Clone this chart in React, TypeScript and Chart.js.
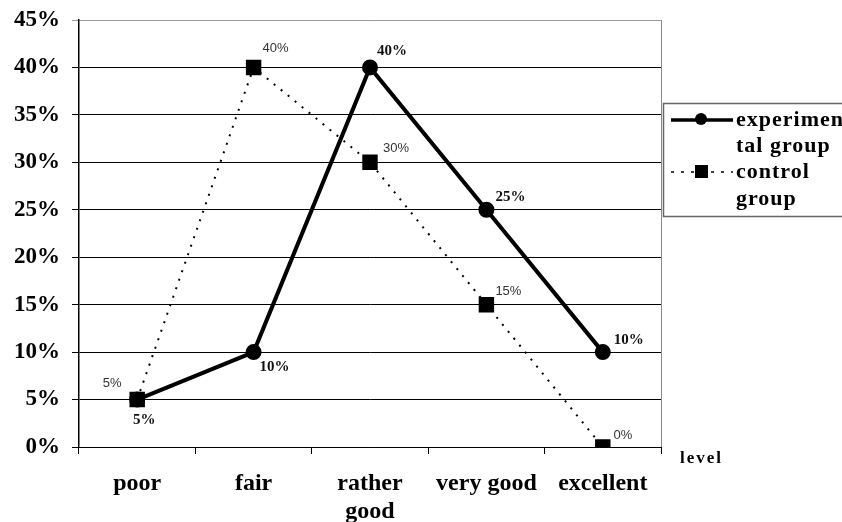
import React, { useEffect, useRef } from "react";
import { Chart, registerables } from "chart.js";

Chart.register(...registerables);

const levels: (string | string[])[] = ["poor", "fair", ["rather", "good"], "very good", "excellent"];
const experimentalGroup = [5, 10, 40, 25, 10];
const controlGroup = [5, 40, 30, 15, 0];
const yTicks = [0, 5, 10, 15, 20, 25, 30, 35, 40, 45];

const SERIF = '"Liberation Serif", "Times New Roman", serif';
const SANS = '"Liberation Sans", Arial, sans-serif';

// value label offsets per point, relative to the marker centre
const expLabelOffsets = [[7, 21], [21, 15], [22, -16], [24, -13], [26, -12]];
const ctlLabelOffsets = [[-25, -16], [22, -19], [26, -14], [22, -13], [20, -12]];

const valueLabels = {
  id: "valueLabels",
  afterDatasetsDraw(chart: any) {
    const ctx = chart.ctx;
    ctx.save();
    ctx.textAlign = "center";
    ctx.textBaseline = "middle";
    chart.data.datasets.forEach((ds: any, di: number) => {
      const meta = chart.getDatasetMeta(di);
      const offs = di === 0 ? expLabelOffsets : ctlLabelOffsets;
      ctx.font = di === 0 ? `bold 15px ${SERIF}` : `13px ${SANS}`;
      ctx.fillStyle = di === 0 ? "#111" : "#333";
      meta.data.forEach((pt: any, i: number) => {
        ctx.fillText(`${ds.data[i]}%`, pt.x + offs[i][0], pt.y + offs[i][1]);
      });
    });
    ctx.restore();
  },
};

const frameAndLegend = {
  id: "frameAndLegend",
  afterDraw(chart: any) {
    const ctx = chart.ctx;
    const a = chart.chartArea;
    ctx.save();
    // right border of the plot area
    ctx.strokeStyle = "#888";
    ctx.lineWidth = 1;
    ctx.beginPath();
    ctx.moveTo(a.right + 0.5, a.top);
    ctx.lineTo(a.right + 0.5, a.bottom);
    ctx.stroke();

    // axis title
    ctx.fillStyle = "#000";
    ctx.font = `bold 17px ${SERIF}`;
    ctx.textAlign = "left";
    ctx.textBaseline = "middle";
    (ctx as any).letterSpacing = "2px";
    ctx.fillText("level", a.right + 19, a.bottom + 12);
    (ctx as any).letterSpacing = "0px";

    // legend box
    const lx = a.right + 2;
    const ly = 103;
    ctx.strokeStyle = "#666";
    ctx.lineWidth = 1.5;
    ctx.strokeRect(lx + 0.5, ly + 0.5, 200, 113);

    // experimental group entry
    ctx.strokeStyle = "#000";
    ctx.lineWidth = 3.5;
    ctx.setLineDash([]);
    ctx.beginPath();
    ctx.moveTo(lx + 8, 120);
    ctx.lineTo(lx + 70, 120);
    ctx.stroke();
    ctx.fillStyle = "#000";
    ctx.beginPath();
    ctx.arc(lx + 38, 119, 6, 0, Math.PI * 2);
    ctx.fill();

    // control group entry
    ctx.lineWidth = 1.5;
    ctx.setLineDash([3, 7]);
    ctx.beginPath();
    ctx.moveTo(lx + 8, 172);
    ctx.lineTo(lx + 70, 172);
    ctx.stroke();
    ctx.setLineDash([]);
    ctx.fillRect(lx + 32, 165, 13, 13);

    ctx.font = `bold 22px ${SERIF}`;
    ctx.textBaseline = "middle";
    (ctx as any).letterSpacing = "1px";
    ctx.fillText("experimen", lx + 73, 120);
    ctx.fillText("tal group", lx + 73, 146);
    ctx.fillText("control", lx + 73, 172);
    ctx.fillText("group", lx + 73, 199);
    ctx.restore();
  },
};

export default function App() {
  const canvasRef = useRef<HTMLCanvasElement | null>(null);

  useEffect(() => {
    if (!canvasRef.current) return;
    const chart = new Chart(canvasRef.current, {
      type: "line",
      data: {
        labels: levels,
        datasets: [
          {
            label: "experimental group",
            data: experimentalGroup,
            order: 1,
            borderColor: "#000",
            backgroundColor: "#000",
            borderWidth: 4,
            pointStyle: "circle",
            pointRadius: 6,
            pointBackgroundColor: "#000",
            pointBorderColor: "#000",
            tension: 0,
          },
          {
            label: "control group",
            data: controlGroup,
            order: 0,
            borderColor: "#000",
            backgroundColor: "#000",
            borderWidth: 2,
            borderDash: [2, 7],
            pointStyle: "rect",
            pointRadius: 9.5,
            pointBackgroundColor: "#000",
            pointBorderColor: "#000",
            tension: 0,
          },
        ],
      },
      options: {
        animation: false,
        responsive: false,
        maintainAspectRatio: false,
        layout: { padding: { top: 0, right: 181, left: 0, bottom: 0 } },
        plugins: {
          legend: { display: false },
          tooltip: { enabled: false },
        },
        scales: {
          x: {
            offset: true,
            grid: {
              offset: true,
              drawOnChartArea: false,
              drawTicks: true,
              tickLength: 7,
              color: "#000",
            },
            border: { color: "#000", width: 1 },
            ticks: {
              color: "#000",
              font: { family: SERIF, size: 24, weight: "bold" },
              padding: 15,
              maxRotation: 0,
              autoSkip: false,
            },
            afterFit: (s: any) => {
              s.height = 75;
            },
          },
          y: {
            min: 0,
            max: 45,
            afterBuildTicks: (s: any) => {
              s.ticks = yTicks.map((v) => ({ value: v }));
            },
            grid: {
              color: (c: any) => (c.tick && c.tick.value === 45 ? "#999" : "#000"),
              lineWidth: 1,
              drawTicks: true,
              tickLength: 7,
            },
            border: { color: "#000", width: 1.5 },
            ticks: {
              color: "#000",
              font: { family: SERIF, size: 23, weight: "bold", lineHeight: 1.0 },
              padding: 12,
              callback: (v: any) => `${v}%`,
            },
            afterFit: (s: any) => {
              s.width = 79;
              s.paddingTop = 20;
            },
          },
        },
      },
      plugins: [valueLabels, frameAndLegend],
    });
    return () => chart.destroy();
  }, []);

  return (
    <div style={{ position: "fixed", left: 0, top: 0, width: 842, height: 522, background: "#fff" }}>
      <canvas ref={canvasRef} width={842} height={522} style={{ display: "block" }} />
    </div>
  );
}
